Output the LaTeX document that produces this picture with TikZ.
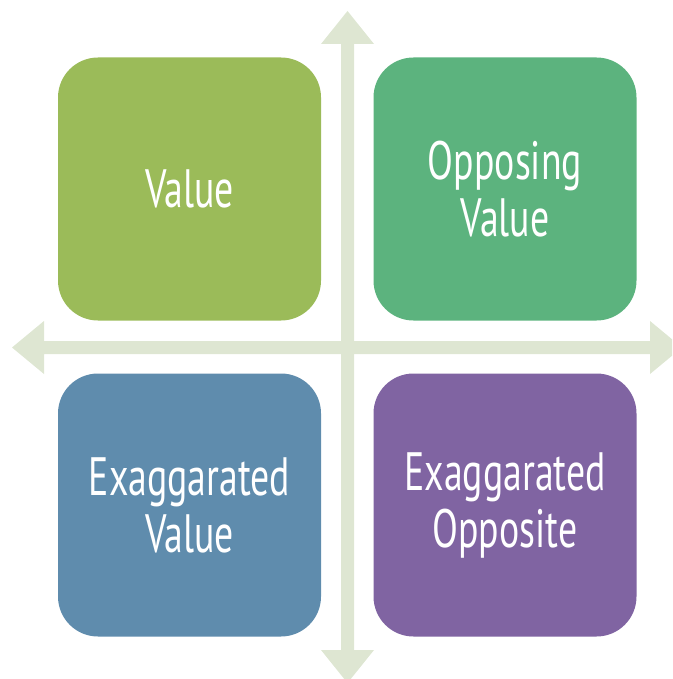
\documentclass[tikz,border=0pt]{standalone}
\usepackage{fontspec}
\setmainfont{PT Sans}[FakeStretch=0.7]
\definecolor{axiscol}{HTML}{DEE6D2}
\definecolor{cval}{HTML}{9BBB59}
\definecolor{copp}{HTML}{5CB37E}
\definecolor{cexv}{HTML}{5F8CAD}
\definecolor{cexo}{HTML}{8064A2}
\tikzset{
  quad/.style={rounded corners=40pt, minimum width=263pt, minimum height=263pt,
    inner sep=0pt, text=white, align=center,
    font=\fontsize{54}{57}\selectfont},
}
\begin{document}
\begin{tikzpicture}[x=1pt,y=-1pt]
\useasboundingbox (0,0) rectangle (672,679);
\clip (0,0) rectangle (672,679);
% axes
\fill[axiscol] (12,347.5) -- (44,321) -- (44,341) -- (650,341) -- (650,321) -- (682,347.5)
  -- (650,374) -- (650,354) -- (44,354) -- (44,374) -- cycle;
\fill[axiscol] (347.5,11) -- (321,44) -- (341,44) -- (341,650) -- (321,650) -- (347.5,683)
  -- (374,650) -- (354,650) -- (354,44) -- (374,44) -- cycle;
% quadrants
\node[quad, fill=cval] (val) at (189.5,189) {Value};
\node[quad, fill=copp] (opp) at (505,189) {Opposing\\Value};
\node[quad, fill=cexv] (exv) at (189.5,505) {Exaggarated\\Value};
\node[quad, fill=cexo] (exo) at (505,505) {Exaggarated\\Opposite};
\end{tikzpicture}
\end{document}
